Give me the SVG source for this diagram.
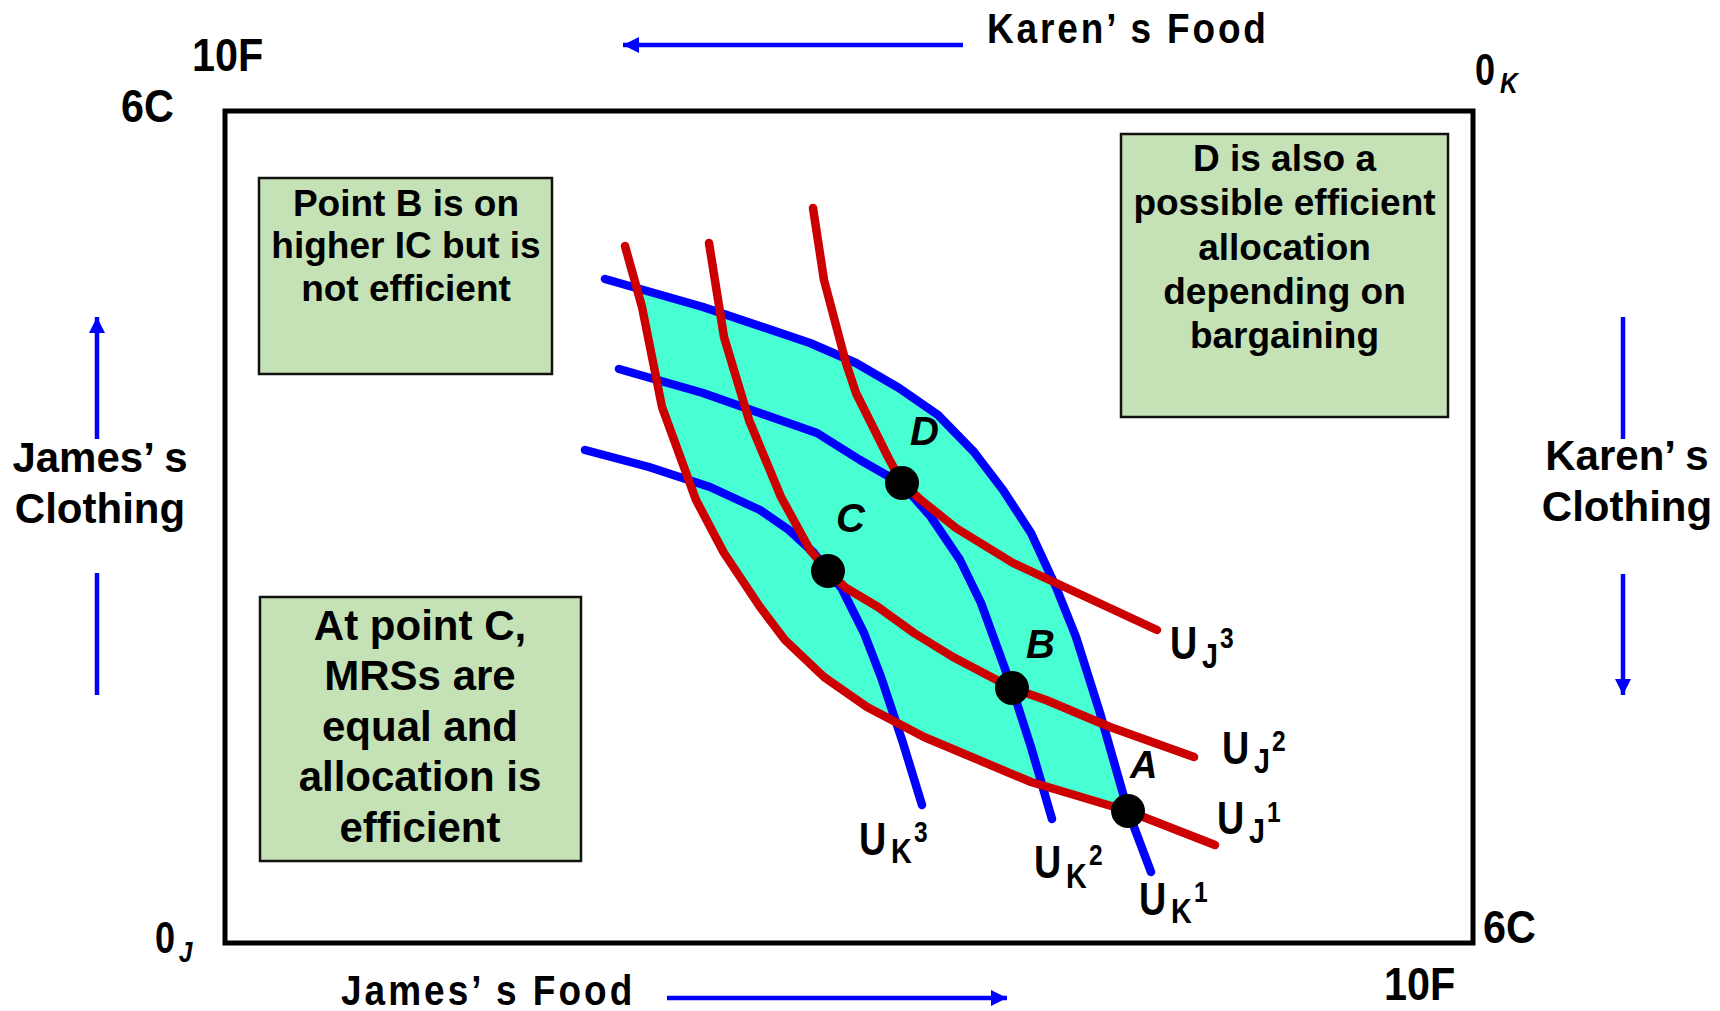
<svg xmlns="http://www.w3.org/2000/svg" width="1720" height="1011" viewBox="0 0 1720 1011">
<style>
.n{font-family:"Liberation Sans",Arial,sans-serif;font-weight:bold;fill:#000}
.w{font-family:"Liberation Sans",Arial,sans-serif;font-weight:bold;fill:#000}
.it{font-family:"Liberation Sans",Arial,sans-serif;font-weight:bold;font-style:italic;fill:#000}
.box{fill:#C4E2B5;stroke:#111;stroke-width:2.5}
.red{fill:none;stroke:#CC0000;stroke-width:8.5;stroke-linecap:round;stroke-linejoin:round}
.blue{fill:none;stroke:#0000FF;stroke-width:8.5;stroke-linecap:round;stroke-linejoin:round}
.ax{fill:none;stroke:#0000FF;stroke-width:4.5}
.dot{fill:#000}
</style>
<defs>
<marker id="ah" markerUnits="userSpaceOnUse" markerWidth="17" markerHeight="17" refX="16" refY="8" orient="auto">
<path d="M0,0 L16,8 L0,16 z" fill="#0000FF"/>
</marker>
</defs>
<rect width="1720" height="1011" fill="#fff"/>

<g id="frame">
<rect x="225" y="111" width="1248" height="832" fill="none" stroke="#000" stroke-width="5"/>
</g>

<g id="region">
<path d="M636,288 L642,307 L662,407 L696,500 L724,553 L760,607 L785,640 L824,677 L867,707 L924,737 L1031,782 L1128,811 L1100,713 L1076,637 L1056,587 L1031,533 L1003,490 L974,452 L938,415 L899,388 L856,363 L810,343 L703,307 Z" fill="#48FFD3"/>
</g>

<g id="curves">
<path id="UK1" class="blue" d="M605,279 L703,307 L810,343 L856,363 L899,388 L938,415 L974,452 L1003,490 L1031,533 L1056,587 L1076,637 L1100,713 L1128,811 L1151,872"/>
<path id="UK2" class="blue" d="M619,369 L703,393 L817,433 L860,460 L902,484 L931,517 L960,560 L981,603 L1012,688 L1031,747 L1052,819"/>
<path id="UK3" class="blue" d="M585,450 L649,467 L710,487 L760,510 L789,530 L814,553 L828,571 L842,589 L864,633 L881,677 L903,743 L922,805"/>
<path id="UJ1" class="red" d="M625,246 L642,307 L662,407 L696,500 L724,553 L760,607 L785,640 L824,677 L867,707 L924,737 L1031,782 L1128,811 L1215,845"/>
<path id="UJ2" class="red" d="M709,243 L724,337 L749,420 L781,497 L810,550 L828,571 L846,588 L878,607 L914,633 L953,657 L1012,688 L1046,700 L1110,727 L1194,757"/>
<path id="UJ3" class="red" d="M813,208 L824,280 L846,363 L856,393 L888,457 L902,483 L921,500 L956,528 L1013,563 L1071,590 L1157,630"/>
</g>

<g id="axis-arrows">
<line x1="963" y1="45" x2="623" y2="45" class="ax" marker-end="url(#ah)"/>
<line x1="97" y1="439" x2="97" y2="317" class="ax" marker-end="url(#ah)"/>
<line x1="97" y1="573" x2="97" y2="695" class="ax"/>
<line x1="1623" y1="317" x2="1623" y2="439" class="ax"/>
<line x1="1623" y1="574" x2="1623" y2="695" class="ax" marker-end="url(#ah)"/>
<line x1="667" y1="998" x2="1007" y2="998" class="ax" marker-end="url(#ah)"/>
</g>

<g id="point-D"><circle class="dot" cx="902" cy="483" r="17"/><text class="it" x="910" y="445" font-size="40">D</text></g>
<g id="point-C"><circle class="dot" cx="828" cy="571" r="17"/><text class="it" x="836" y="532" font-size="40">C</text></g>
<g id="point-B"><circle class="dot" cx="1012" cy="688" r="17"/><text class="it" x="1026" y="658" font-size="40">B</text></g>
<g id="point-A"><circle class="dot" cx="1128" cy="811" r="17"/><text class="it" x="1130" y="778" font-size="38">A</text></g>

<g id="label-UJ3"><text class="n" transform="translate(1170,659) scale(0.82,1)"><tspan x="0" y="0" font-size="46">U</tspan><tspan x="39" y="9" font-size="35">J</tspan><tspan x="61" y="-11" font-size="30">3</tspan></text></g>
<g id="label-UJ2"><text class="n" transform="translate(1222,764) scale(0.82,1)"><tspan x="0" y="0" font-size="46">U</tspan><tspan x="39" y="9" font-size="35">J</tspan><tspan x="61" y="-13" font-size="30">2</tspan></text></g>
<g id="label-UJ1"><text class="n" transform="translate(1217,834) scale(0.82,1)"><tspan x="0" y="0" font-size="46">U</tspan><tspan x="39" y="9" font-size="35">J</tspan><tspan x="61" y="-12" font-size="30">1</tspan></text></g>
<g id="label-UK3"><text class="n" transform="translate(859,855) scale(0.82,1)"><tspan x="0" y="0" font-size="46">U</tspan><tspan x="39" y="8" font-size="35">K</tspan><tspan x="67" y="-13" font-size="30">3</tspan></text></g>
<g id="label-UK2"><text class="n" transform="translate(1034,878) scale(0.82,1)"><tspan x="0" y="0" font-size="46">U</tspan><tspan x="39" y="10" font-size="35">K</tspan><tspan x="67" y="-13" font-size="30">2</tspan></text></g>
<g id="label-UK1"><text class="n" transform="translate(1139,915) scale(0.82,1)"><tspan x="0" y="0" font-size="46">U</tspan><tspan x="39" y="8" font-size="35">K</tspan><tspan x="67" y="-13" font-size="30">1</tspan></text></g>

<g id="box-B">
<rect class="box" x="259" y="178" width="293" height="196"/>
<text class="w" font-size="37" text-anchor="middle"><tspan x="406" y="216">Point B is on</tspan><tspan x="406" y="258">higher IC but is</tspan><tspan x="406" y="301">not efficient</tspan></text>
</g>
<g id="box-C">
<rect class="box" x="260" y="597" width="321" height="264"/>
<text class="w" font-size="42" text-anchor="middle"><tspan x="420" y="640">At point C,</tspan><tspan x="420" y="690">MRSs are</tspan><tspan x="420" y="741">equal and</tspan><tspan x="420" y="791">allocation is</tspan><tspan x="420" y="842">efficient</tspan></text>
</g>
<g id="box-D">
<rect class="box" x="1121" y="134" width="327" height="283"/>
<text class="w" font-size="37" text-anchor="middle"><tspan x="1284.5" y="171">D is also a</tspan><tspan x="1284.5" y="215">possible efficient</tspan><tspan x="1284.5" y="260">allocation</tspan><tspan x="1284.5" y="304">depending on</tspan><tspan x="1284.5" y="348">bargaining</tspan></text>
</g>

<g id="label-karens-food"><text class="n" transform="translate(987,43) scale(0.88,1)" font-size="42" textLength="317" lengthAdjust="spacing">Karen’ s Food</text></g>
<g id="label-james-food"><text class="n" transform="translate(341,1005) scale(0.88,1)" font-size="42" textLength="331" lengthAdjust="spacing">James’ s Food</text></g>
<g id="label-james-clothing"><text class="w" font-size="42" text-anchor="middle"><tspan x="100" y="472">James’ s</tspan><tspan x="100" y="523">Clothing</tspan></text></g>
<g id="label-karen-clothing"><text class="w" font-size="42" text-anchor="middle"><tspan x="1627" y="470">Karen’ s</tspan><tspan x="1627" y="521">Clothing</tspan></text></g>

<g id="label-10F-top"><text class="n" transform="translate(192,71) scale(0.88,1)" font-size="47">10F</text></g>
<g id="label-6C-top"><text class="n" transform="translate(121,122) scale(0.88,1)" font-size="47">6C</text></g>
<g id="label-0K"><text class="n" transform="translate(1475,85) scale(0.82,1)"><tspan x="0" y="0" font-size="44">0</tspan><tspan class="it" x="30.5" y="8" font-size="30">K</tspan></text></g>
<g id="label-0J"><text class="n" transform="translate(155,953) scale(0.82,1)"><tspan x="0" y="0" font-size="44">0</tspan><tspan class="it" x="29" y="9" font-size="30">J</tspan></text></g>
<g id="label-6C-bottom"><text class="n" transform="translate(1483,943) scale(0.88,1)" font-size="47">6C</text></g>
<g id="label-10F-bottom"><text class="n" transform="translate(1384,1000) scale(0.88,1)" font-size="47">10F</text></g>
</svg>
